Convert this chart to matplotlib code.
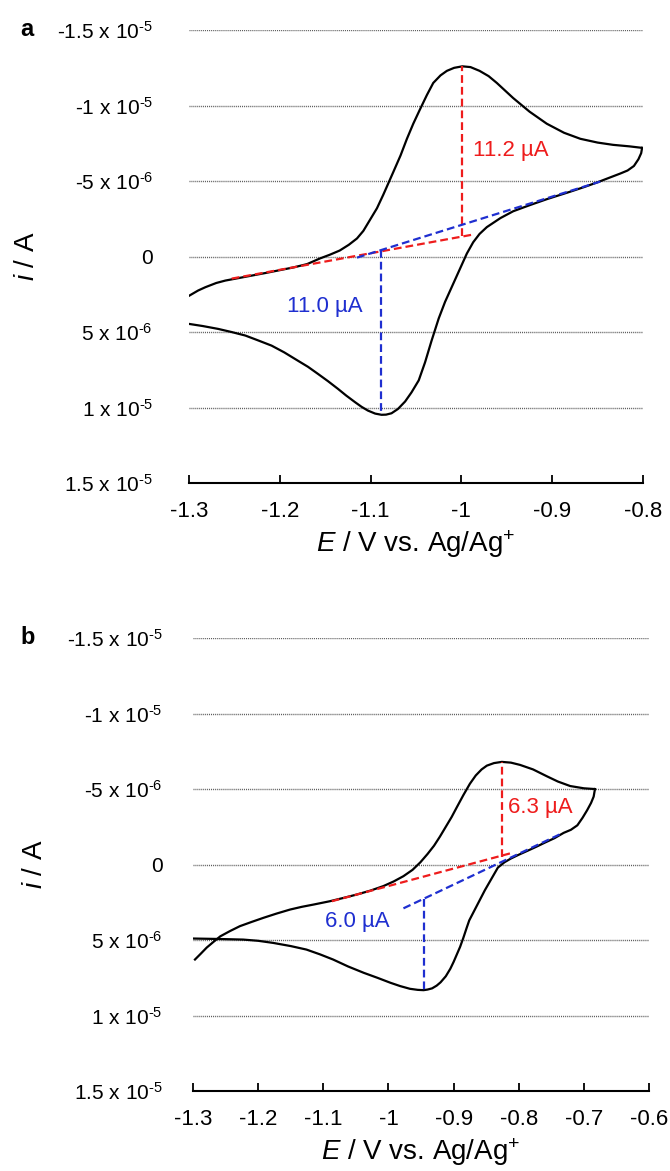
import matplotlib
matplotlib.use('Agg')
import matplotlib.pyplot as plt
import numpy as np

plt.rcParams['font.family'] = ['Liberation Sans', 'DejaVu Sans']
plt.rcParams['mathtext.fontset'] = 'custom'
plt.rcParams['mathtext.rm'] = 'Liberation Sans'
plt.rcParams['mathtext.it'] = 'Liberation Sans:italic'
plt.rcParams['mathtext.default'] = 'regular'
plt.rcParams['axes.unicode_minus'] = False

# ---- panel a: CV, potential (V) and current (uA) ----
a_fwd_E = [-1.300, -1.290, -1.282, -1.270, -1.260, -1.245, -1.230, -1.215, -1.200, -1.185,
           -1.170, -1.156, -1.145, -1.134, -1.124, -1.115, -1.108, -1.101, -1.093, -1.086,
           -1.075, -1.067, -1.060, -1.053, -1.046, -1.038, -1.031, -1.023, -1.016, -1.008,
           -0.999, -0.990, -0.980, -0.970, -0.961, -0.952, -0.943, -0.925, -0.906, -0.887,
           -0.869, -0.850, -0.833, -0.815, -0.801]
a_fwd_i = [2.6, 2.25, 2.03, 1.75, 1.59, 1.42, 1.25, 1.08, 0.9, 0.72,
           0.5, 0.13, -0.12, -0.4, -0.78, -1.2, -1.7, -2.4, -3.2, -4.1,
           -5.6, -6.7, -7.8, -8.8, -9.7, -10.7, -11.5, -12.0, -12.3, -12.5,
           -12.6, -12.55, -12.3, -11.95, -11.5, -11.0, -10.5, -9.6, -8.8, -8.2,
           -7.8, -7.55, -7.4, -7.3, -7.2]
a_rev_E = [-0.801, -0.802, -0.805, -0.810, -0.817, -0.825, -0.838, -0.851, -0.865, -0.880,
           -0.893, -0.906, -0.925, -0.943, -0.957, -0.972, -0.980, -0.987, -0.994, -1.000,
           -1.009, -1.018, -1.025, -1.033, -1.040, -1.047, -1.055, -1.062, -1.070, -1.077,
           -1.083, -1.088, -1.095, -1.103, -1.110, -1.117, -1.127, -1.136, -1.147, -1.158,
           -1.169, -1.180, -1.195, -1.209, -1.224, -1.238, -1.253, -1.268, -1.285, -1.300]
a_rev_i = [-7.2, -6.85, -6.45, -6.0, -5.7, -5.5, -5.2, -4.9, -4.6, -4.3,
           -4.05, -3.8, -3.4, -3.0, -2.55, -1.95, -1.5, -0.95, -0.2, 0.6,
           1.8, 3.0, 4.1, 5.6, 7.0, 8.2, 9.0, 9.6, 10.1, 10.38,
           10.47, 10.48, 10.4, 10.2, 9.95, 9.65, 9.2, 8.76, 8.25, 7.77,
           7.3, 6.9, 6.35, 5.9, 5.55, 5.23, 5.0, 4.79, 4.6, 4.46]
a_red_base_E = [-1.253, -0.987]
a_red_base_i = [1.46, -1.46]
a_red_peak_E = [-0.999, -0.999]
a_red_peak_i = [-1.35, -12.6]
a_blue_base_E = [-1.115, -0.847]
a_blue_base_i = [0.07, -4.97]
a_blue_peak_E = [-1.0885, -1.0885]
a_blue_peak_i = [-0.43, 10.48]
a_red_label = '11.2 µA'
a_blue_label = '11.0 µA'

# ---- panel b ----
b_fwd_E = [-1.297, -1.288, -1.279, -1.268, -1.258, -1.243, -1.228, -1.210, -1.192, -1.172,
           -1.151, -1.133, -1.115, -1.090, -1.070, -1.049, -1.028, -1.008, -0.992, -0.977,
           -0.963, -0.951, -0.940, -0.930, -0.921, -0.912, -0.903, -0.895, -0.885, -0.875,
           -0.866, -0.857, -0.849, -0.838, -0.826, -0.812, -0.798, -0.778, -0.757, -0.740,
           -0.721, -0.700, -0.683]
b_fwd_i = [6.29, 5.9, 5.5, 5.1, 4.75, 4.4, 4.08, 3.8, 3.53, 3.25,
           2.98, 2.8, 2.65, 2.43, 2.22, 1.99, 1.73, 1.43, 1.12, 0.77,
           0.35, -0.15, -0.7, -1.25, -1.85, -2.5, -3.15, -3.8, -4.6, -5.35,
           -5.9, -6.3, -6.55, -6.72, -6.8, -6.75, -6.6, -6.3, -5.85, -5.5,
           -5.2, -5.05, -5.0]
b_rev_E = [-0.683, -0.685, -0.689, -0.695, -0.702, -0.710, -0.720, -0.731, -0.745, -0.760,
           -0.772, -0.782, -0.800, -0.812, -0.822, -0.832, -0.844, -0.852, -0.861, -0.870,
           -0.876, -0.880, -0.885, -0.890, -0.895, -0.900, -0.905, -0.912, -0.920, -0.926,
           -0.933, -0.940, -0.946, -0.955, -0.967, -0.982, -0.997, -1.017, -1.038, -1.062,
           -1.085, -1.105, -1.126, -1.150, -1.177, -1.200, -1.223, -1.260, -1.300]
b_rev_i = [-5.0, -4.5, -4.08, -3.6, -3.1, -2.6, -2.3, -2.1, -1.75, -1.45,
           -1.2, -1.0, -0.65, -0.4, -0.15, 0.2, 1.1, 1.7, 2.45, 3.2,
           3.7, 4.2, 4.85, 5.45, 5.95, 6.45, 6.9, 7.4, 7.8, 8.02,
           8.2, 8.28, 8.32, 8.3, 8.23, 8.05, 7.83, 7.5, 7.17, 6.75,
           6.29, 5.95, 5.63, 5.4, 5.19, 5.05, 4.97, 4.93, 4.9]
b_red_base_E = [-1.087, -0.808]
b_red_base_i = [2.43, -0.8]
b_red_peak_E = [-0.826, -0.826]
b_red_peak_i = [-0.5, -6.8]
b_blue_base_E = [-0.977, -0.732]
b_blue_base_i = [2.9, -2.1]
b_blue_peak_E = [-0.946, -0.946]
b_blue_peak_i = [2.27, 8.32]
b_red_label = '6.3 µA'
b_blue_label = '6.0 µA'

yticks = [-1.5e-5, -1e-5, -5e-6, 0, 5e-6, 1e-5, 1.5e-5]
ytick_labels = [r'-1.5 x 10$^{\text{-5}}$', r'-1 x 10$^{\text{-5}}$', r'-5 x 10$^{\text{-6}}$', '0',
                r'5 x 10$^{\text{-6}}$', r'1 x 10$^{\text{-5}}$', r'1.5 x 10$^{\text{-5}}$']
a_xticks = [-1.3, -1.2, -1.1, -1.0, -0.9, -0.8]
a_xtick_labels = ['-1.3', '-1.2', '-1.1', '-1', '-0.9', '-0.8']
b_xticks = [-1.3, -1.2, -1.1, -1.0, -0.9, -0.8, -0.7, -0.6]
b_xtick_labels = ['-1.3', '-1.2', '-1.1', '-1', '-0.9', '-0.8', '-0.7', '-0.6']

RED = '#ee1c1c'
BLUE = '#1f2fd0'
DASH = (0, (3.5, 1.8))

fig = plt.figure(figsize=(6.7, 11.71), dpi=100)
ax1 = fig.add_axes([0.2821, 0.5875, 0.6776, 0.3868])
ax2 = fig.add_axes([0.2881, 0.0683, 0.6806, 0.3868])


def uA(v):
    return np.array(v) * 1e-6


def style(ax, xticks, xlabels, ypad, ylab_x):
    ax.set_ylim(1.5e-5, -1.5e-5)
    ax.set_xlim(xticks[0], xticks[-1])
    ax.set_yticks(yticks)
    ax.set_yticklabels(ytick_labels)
    ax.set_xticks(xticks)
    ax.set_xticklabels(xlabels)
    for s in ['left', 'top', 'right']:
        ax.spines[s].set_visible(False)
    ax.spines['bottom'].set_linewidth(1.5)
    ax.grid(axis='y', linestyle=(0, (0.7, 0.7)), color='0.35', lw=1.0)
    ax.set_axisbelow(True)
    ax.tick_params(axis='x', direction='in', length=6, width=1.3, pad=13, labelsize=16)
    ax.tick_params(axis='y', length=0, pad=ypad, labelsize=15)
    ax.set_ylabel(r'$\mathit{i}$ / A', fontsize=20)
    ax.yaxis.set_label_coords(ylab_x, 0.5)
    ax.set_xlabel(r'$\mathit{E}$ / V vs. Ag/Ag$^{+}$', fontsize=20)
    ax.xaxis.label.set_va('center')
    ax.xaxis.set_label_coords(0.5, -0.135)


# panel a
ax1.plot(a_fwd_E, uA(a_fwd_i), color='black', lw=1.6)
ax1.plot(a_rev_E, uA(a_rev_i), color='black', lw=1.6)
ax1.plot(a_red_base_E, uA(a_red_base_i), color=RED, lw=1.6, linestyle=DASH)
ax1.plot(a_red_peak_E, uA(a_red_peak_i), color=RED, lw=1.6, linestyle=DASH)
ax1.plot(a_blue_base_E, uA(a_blue_base_i), color=BLUE, lw=1.6, linestyle=DASH)
ax1.plot(a_blue_peak_E, uA(a_blue_peak_i), color=BLUE, lw=1.6, linestyle=DASH)
ax1.text(-0.987, -7.0e-6, a_red_label, color=RED, fontsize=16, ha='left', va='center')
ax1.text(-1.192, 3.3e-6, a_blue_label, color=BLUE, fontsize=16, ha='left', va='center')
style(ax1, a_xticks, a_xtick_labels, 26, -0.328)

# panel b
ax2.plot(b_fwd_E, uA(b_fwd_i), color='black', lw=1.6)
ax2.plot(b_rev_E, uA(b_rev_i), color='black', lw=1.6)
ax2.plot(b_red_base_E, uA(b_red_base_i), color=RED, lw=1.6, linestyle=DASH)
ax2.plot(b_red_peak_E, uA(b_red_peak_i), color=RED, lw=1.6, linestyle=DASH)
ax2.plot(b_blue_base_E, uA(b_blue_base_i), color=BLUE, lw=1.6, linestyle=DASH)
ax2.plot(b_blue_peak_E, uA(b_blue_peak_i), color=BLUE, lw=1.6, linestyle=DASH)
ax2.text(-0.816, -3.8e-6, b_red_label, color=RED, fontsize=16, ha='left', va='center')
ax2.text(-1.097, 3.8e-6, b_blue_label, color=BLUE, fontsize=16, ha='left', va='center')
style(ax2, b_xticks, b_xtick_labels, 22, -0.318)

fig.text(20 / 670, 1 - 30 / 1171, 'a', fontsize=17, fontweight='bold', ha='left', va='center')
fig.text(20 / 670, 1 - 638 / 1171, 'b', fontsize=17, fontweight='bold', ha='left', va='center')

fig.savefig('out.png', dpi=100)
